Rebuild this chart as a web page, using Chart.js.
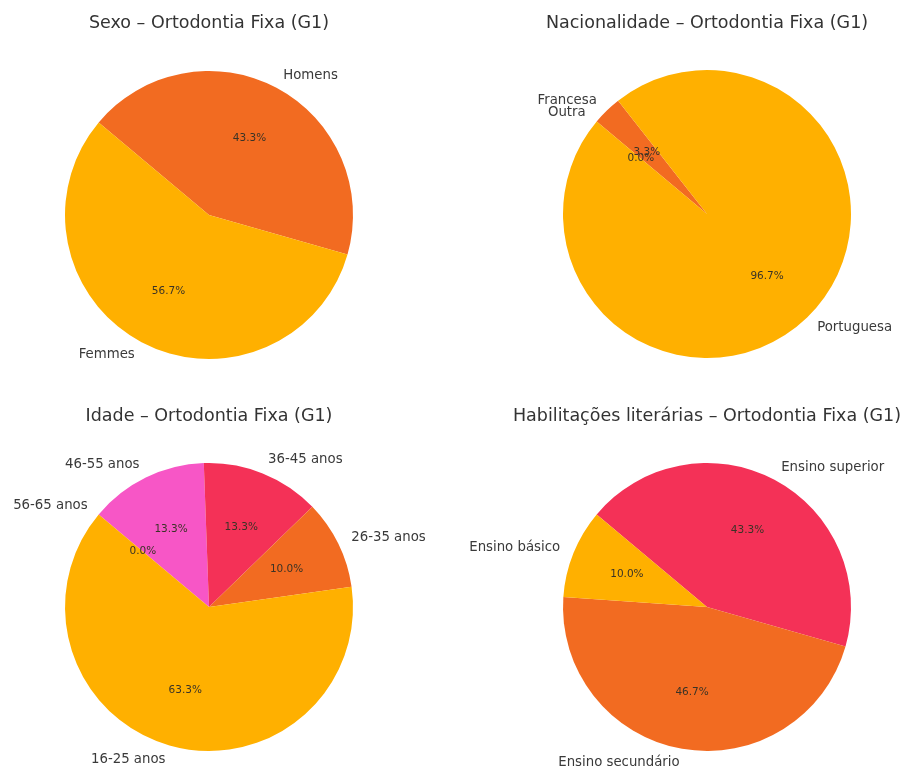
<!DOCTYPE html>
<html>
<head>
<meta charset="utf-8">
<script src="https://cdn.jsdelivr.net/npm/chart.js@4"></script>
<style>
    body { margin: 0; background: #fff; }
    #pagina { position: relative; width: 906px; height: 772px; }
    .riquadro { position: absolute; width: 453px; height: 386px; }
</style>
</head>
<body>
<div id="pagina">
    <div class="riquadro" style="left:0;top:0"><canvas id="torta1" width="453" height="386"></canvas></div>
    <div class="riquadro" style="left:453px;top:0"><canvas id="torta2" width="453" height="386"></canvas></div>
    <div class="riquadro" style="left:0;top:386px"><canvas id="torta3" width="453" height="386"></canvas></div>
    <div class="riquadro" style="left:453px;top:386px"><canvas id="torta4" width="453" height="386"></canvas></div>
</div>
<script>
// colori delle fette, nello stesso ordine delle categorie
var colori = ['#FFB000', '#F26B21', '#F43157', '#F756C6', '#A55CF0'];

var sexoLabels = ['Femmes', 'Homens'];
var sexoValori = [56.7, 43.3];

var nacLabels = ['Portuguesa', 'Francesa', 'Outra'];
var nacValori = [96.7, 3.3, 0.0];

var idadeLabels = ['16-25 anos', '26-35 anos', '36-45 anos', '46-55 anos', '56-65 anos'];
var idadeValori = [63.3, 10.0, 13.3, 13.3, 0.0];

var habLabels = ['Ensino básico', 'Ensino secundário', 'Ensino superior'];
var habValori = [10.0, 46.7, 43.3];

var titoli = [
    'Sexo – Ortodontia Fixa (G1)',
    'Nacionalidade – Ortodontia Fixa (G1)',
    'Idade – Ortodontia Fixa (G1)',
    'Habilitações literárias – Ortodontia Fixa (G1)'
];

var FONT = '"DejaVu Sans", "Liberation Sans", sans-serif';

// disegna titolo, nomi e percentuali (stile matplotlib)
var etichettePlugin = {
    id: 'etichette',
    afterDraw: function (chart) {
        var opz = chart.options.plugins.etichette;
        var ctx = chart.ctx;
        var meta = chart.getDatasetMeta(0);
        var valori = chart.data.datasets[0].data;
        var nomi = chart.data.labels;
        var centroX = (chart.chartArea.left + chart.chartArea.right) / 2;

        ctx.save();
        ctx.fillStyle = '#333333';
        ctx.font = '17.5px ' + FONT;
        ctx.textAlign = 'center';
        ctx.textBaseline = 'alphabetic';
        ctx.fillText(opz.titolo, centroX, opz.yTitolo);

        // ordine originale = inverso di quello di Chart.js
        for (var i = meta.data.length - 1; i >= 0; i--) {
            var arco = meta.data[i];
            var mid = (arco.startAngle + arco.endAngle) / 2;
            var r = arco.outerRadius;

            ctx.fillStyle = '#3a3a3a';
            ctx.font = '13.3px ' + FONT;
            ctx.textBaseline = 'middle';
            ctx.textAlign = Math.cos(mid) > 0 ? 'left' : 'right';
            ctx.fillText(nomi[i], arco.x + 1.1 * r * Math.cos(mid), arco.y + 1.1 * r * Math.sin(mid));

            ctx.fillStyle = '#3a3326';
            ctx.font = '10.5px ' + FONT;
            ctx.textAlign = 'center';
            ctx.fillText(valori[i].toFixed(1) + '%', arco.x + 0.6 * r * Math.cos(mid), arco.y + 0.6 * r * Math.sin(mid));
        }
        ctx.restore();
    }
};

function creaTorta(idCanvas, etichette, valori, titolo, padding, yTitolo) {
    // matplotlib gira in senso antiorario da 140°, Chart.js in senso orario:
    // inverto l'ordine e sposto la rotazione
    var lab = etichette.slice().reverse();
    var val = valori.slice().reverse();
    var col = colori.slice(0, valori.length).reverse();

    return new Chart(document.getElementById(idCanvas), {
        type: 'pie',
        data: {
            labels: lab,
            datasets: [{
                data: val,
                backgroundColor: col,
                borderWidth: 0,
                hoverOffset: 0,
                offset: 0
            }]
        },
        options: {
            responsive: false,
            animation: false,
            events: [],
            rotation: -50,
            radius: 144,
            layout: { padding: padding },
            plugins: {
                legend: { display: false },
                tooltip: { enabled: false },
                etichette: { titolo: titolo, yTitolo: yTitolo }
            }
        },
        plugins: [etichettePlugin]
    });
}

creaTorta('torta1', sexoLabels, sexoValori, titoli[0], { left: 65, top: 71, right: 100, bottom: 27 }, 28);
creaTorta('torta2', nacLabels, nacValori, titoli[1], { left: 110, top: 70, right: 55, bottom: 28 }, 28);
creaTorta('torta3', idadeLabels, idadeValori, titoli[2], { left: 65, top: 77, right: 100, bottom: 21 }, 35);
creaTorta('torta4', habLabels, habValori, titoli[3], { left: 110, top: 77, right: 55, bottom: 21 }, 35);
</script>
</body>
</html>
